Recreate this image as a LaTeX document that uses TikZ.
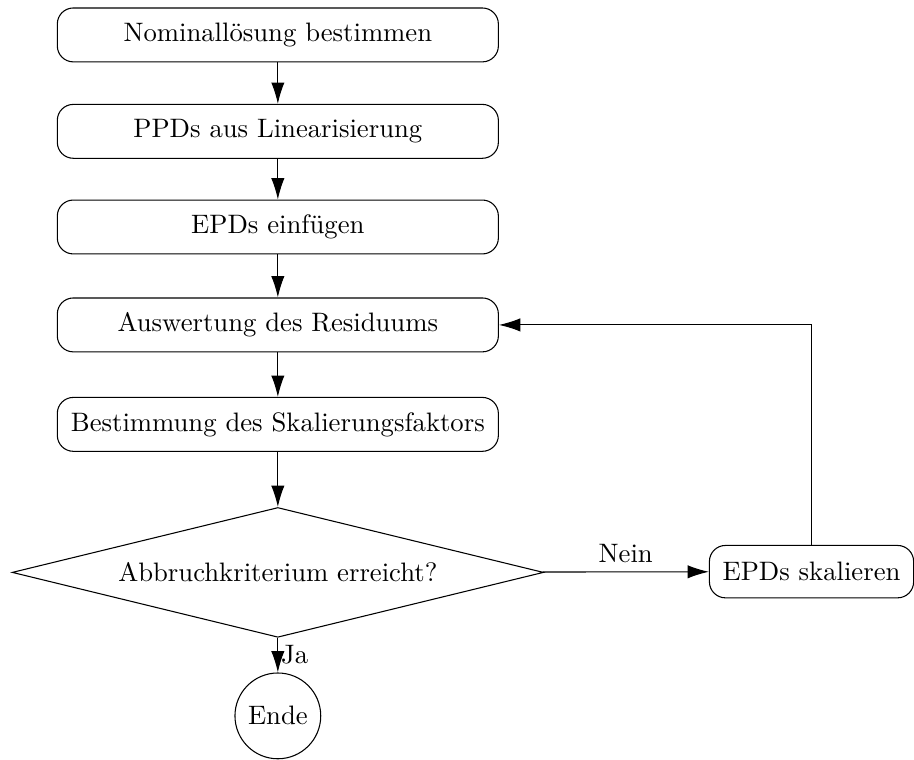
\documentclass[tikz,border=0pt]{standalone}
\usetikzlibrary{shapes.geometric, arrows.meta}

\begin{document}
\begin{tikzpicture}[
		schritt/.style={rectangle, rounded corners=6pt, draw, minimum width=5.81cm, minimum height=0.71cm},
		pfeil/.style={-{Latex[length=8pt, width=5pt]}}]
		\useasboundingbox (0,0) rectangle (12.04,-10.01);

		\node (nom)[schritt] at (3.66,-0.46) {Nominallösung bestimmen};
		\node (ppd)[schritt] at (3.66,-1.73) {PPDs aus Linearisierung};
		\node (epd)[schritt] at (3.66,-2.99) {EPDs einfügen};
		\node (ausw)[schritt] at (3.66,-4.28) {Auswertung des Residuums};
		\node (skf)[schritt] at (3.66,-5.59) {Bestimmung des Skalierungsfaktors};
		\node (abbr)[diamond, draw, aspect=4.09, minimum width=7cm, minimum height=1.71cm, inner sep=0pt] at (3.66,-7.54) {Abbruchkriterium erreicht?};
		\node (skal)[rectangle, rounded corners=6pt, draw, minimum width=2.69cm, minimum height=0.69cm] at (10.69,-7.53) {EPDs skalieren};
		\node (ende)[circle, draw, minimum size=1.13cm, inner sep=1pt] at (3.66,-9.43) {Ende};

		\draw [pfeil](nom)--(ppd);
		\draw [pfeil](ppd)--(epd);
		\draw [pfeil](epd)--(ausw);
		\draw [pfeil](ausw)--(skf);
		\draw [pfeil](skf)--(abbr);
		\draw [pfeil](abbr)--node[above]{Nein}(skal);
		\draw [pfeil](abbr)--node[right, inner sep=1pt]{Ja}(ende);
		\draw [pfeil](skal.north)|-(ausw.east);
	\end{tikzpicture}
\end{document}
